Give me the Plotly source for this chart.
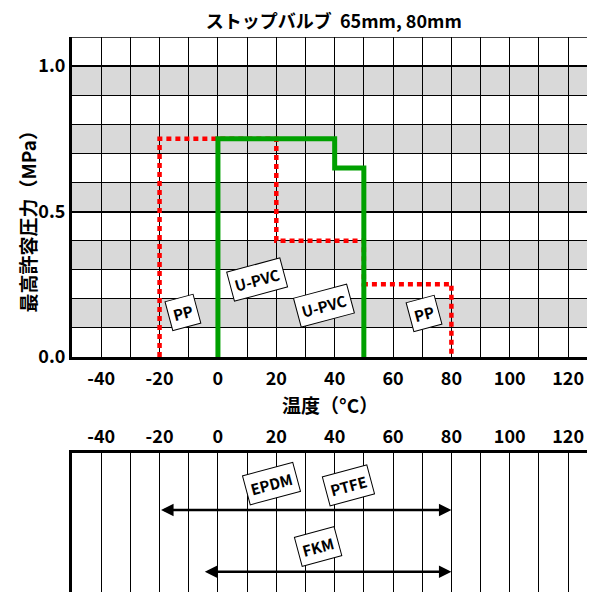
import plotly.graph_objects as go

# ---------------- data ----------------
title_text = "ストップバルブ  65mm, 80mm"
y_title = "最高許容圧力（MPa）"
x_title = "温度（°C）"

pp_temp = [-20, -20, 20, 20, 50, 50, 80, 80]
pp_press = [0.0, 0.75, 0.75, 0.40, 0.40, 0.25, 0.25, 0.0]

upvc_temp = [0, 0, 40, 40, 50, 50]
upvc_press = [0.0, 0.75, 0.75, 0.65, 0.65, 0.0]

x_tick_vals = [-40, -20, 0, 20, 40, 60, 80, 100, 120]
y_tick_vals = [0.0, 0.5, 1.0]
y_tick_text = ["0.0", "0.5", "1.0"]

gray_bands = [(0.1, 0.2), (0.3, 0.4), (0.5, 0.6), (0.7, 0.8), (0.9, 1.0)]

# seal material ranges (temperature from, to): EPDM/PTFE, FKM
seal_ranges_from = [-20, -5]
seal_ranges_to = [80, 80]

# labels: text, x, y
top_labels = [("PP", -12.0, 0.152), ("U-PVC", 13.5, 0.268),
              ("U-PVC", 36.5, 0.176), ("PP", 70.6, 0.150)]
bottom_labels = [("EPDM", 18.5, 0.78), ("PTFE", 44.6, 0.765), ("FKM", 34.3, 0.33)]
arrow_levels = [0.59, 0.145]

FONT = "Noto Sans CJK JP"
XR = [-50, 129.2]

fig = go.Figure()

fig.add_trace(go.Scatter(x=pp_temp, y=pp_press, mode="lines",
                         line=dict(color="#FF0000", width=4.5, dash="5px,4px"),
                         xaxis="x", yaxis="y", showlegend=False, hoverinfo="skip"))
fig.add_trace(go.Scatter(x=upvc_temp, y=upvc_press, mode="lines",
                         line=dict(color="#00A000", width=5),
                         xaxis="x", yaxis="y", showlegend=False, hoverinfo="skip"))
fig.add_trace(go.Scatter(x=[XR[0]], y=[0], mode="markers", marker=dict(opacity=0),
                         xaxis="x2", yaxis="y2", showlegend=False, hoverinfo="skip"))

shapes = []
for y0, y1 in gray_bands:
    shapes.append(dict(type="rect", xref="x", yref="y", x0=XR[0], x1=XR[1], y0=y0, y1=y1,
                       fillcolor="#D9D9D9", line=dict(width=0), layer="below"))
shapes.append(dict(type="line", xref="paper", yref="y", x0=0, x1=1, y0=1.1, y1=1.1,
                   line=dict(color="black", width=1.5)))

LBL_FONT = dict(family=FONT, size=15, color="black")
annotations = []
for txt, x, y in top_labels:
    annotations.append(dict(text="<b>%s</b>" % txt, x=x, y=y, xref="x", yref="y",
                            showarrow=False, textangle=-15, font=LBL_FONT,
                            bgcolor="white", bordercolor="black", borderwidth=1, borderpad=4))
for txt, x, y in bottom_labels:
    annotations.append(dict(text="<b>%s</b>" % txt, x=x, y=y, xref="x2", yref="y2",
                            showarrow=False, textangle=-15, font=LBL_FONT,
                            bgcolor="white", bordercolor="black", borderwidth=1, borderpad=4))
for x0, x1, lv in zip(seal_ranges_from, seal_ranges_to, arrow_levels):
    annotations.append(dict(text="", x=x1, y=lv, ax=x0, ay=lv,
                            xref="x2", yref="y2", axref="x2", ayref="y2",
                            showarrow=True, arrowhead=2, arrowside="end+start",
                            arrowwidth=2.5, arrowsize=1, arrowcolor="black",
                            standoff=0, startstandoff=0))
# axis titles
annotations.append(dict(text="<b>%s</b>" % y_title, xref="paper", yref="paper",
                        x=-0.086, y=0.675, xanchor="center", yanchor="middle",
                        textangle=-90, showarrow=False,
                        font=dict(family=FONT, size=19, color="black")))
annotations.append(dict(text="<b>%s</b>" % x_title, xref="paper", yref="paper",
                        x=0.493, y=0.337, xanchor="center", yanchor="middle",
                        showarrow=False, font=dict(family=FONT, size=19, color="black")))

TICKFONT = dict(family=FONT, size=18, color="black", weight="bold")

# The page body adds an 8px offset; compensate so the plot area lands where the reference has it.
fig.update_layout(
    width=587, height=584,
    margin=dict(l=64, r=0, t=29, b=0, autoexpand=False),
    paper_bgcolor="white", plot_bgcolor="white",
    font=dict(family=FONT, color="black"),
    title=dict(text="<b>%s</b>" % title_text, x=0.555, xanchor="center", y=0.977, yanchor="middle",
               font=dict(family=FONT, size=18, color="black")),
    shapes=shapes, annotations=annotations,
    xaxis=dict(domain=[0, 1], range=XR, anchor="y", automargin=False,
               tickvals=x_tick_vals, ticktext=[str(v) for v in x_tick_vals],
               tickfont=TICKFONT, ticks="", ticklabelstandoff=3,
               showgrid=True, gridcolor="black", gridwidth=1.2,
               minor=dict(dtick=10, tick0=0, showgrid=True, gridcolor="black", gridwidth=1.2),
               showline=True, linecolor="black", linewidth=3, zeroline=False),
    yaxis=dict(domain=[0.4234, 1], range=[0, 1.1], anchor="x", automargin=False,
               tickvals=y_tick_vals, ticktext=y_tick_text,
               tickfont=TICKFONT, ticks="", ticklabelstandoff=0,
               showgrid=True, gridcolor="black", gridwidth=1.5,
               minor=dict(dtick=0.1, tick0=0, showgrid=True, gridcolor="black", gridwidth=1.2),
               showline=True, linecolor="black", linewidth=3, zeroline=False),
    xaxis2=dict(domain=[0, 1], range=XR, anchor="y2", side="top", automargin=False,
                tickvals=x_tick_vals, ticktext=[str(v) for v in x_tick_vals],
                tickfont=TICKFONT, ticks="", ticklabelstandoff=0,
                showgrid=True, gridcolor="black", gridwidth=1.2,
                minor=dict(dtick=10, tick0=0, showgrid=True, gridcolor="black", gridwidth=1.2),
                showline=True, linecolor="black", linewidth=3, zeroline=False),
    yaxis2=dict(domain=[0, 0.2505], range=[0, 1], anchor="x2", automargin=False,
                showticklabels=False, ticks="", showgrid=False, zeroline=False,
                showline=True, linecolor="black", linewidth=3),
)

fig.write_html("out.html")
